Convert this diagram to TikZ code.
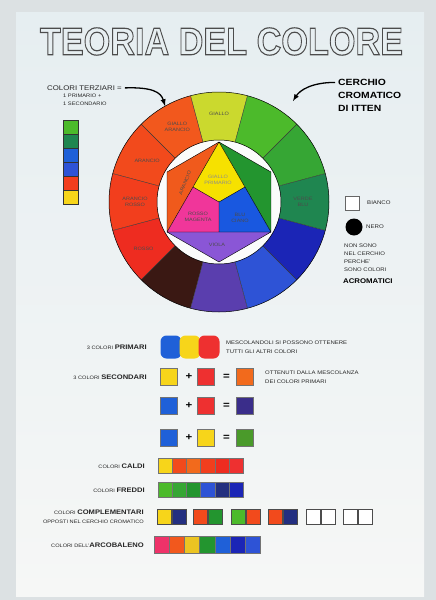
\documentclass[tikz,border=0pt]{standalone}
\usepackage{fontspec}
\setmainfont{Liberation Sans}[FakeStretch=1.15]
\usepackage{xcolor}
\usepackage{graphicx}
\usepackage{tikz}
\usetikzlibrary{calc, positioning}

% foglio
\definecolor{fondo}{HTML}{DCE1E3}
\definecolor{cartaAlto}{HTML}{E6EEF1}
\definecolor{cartaBasso}{HTML}{F6F7F6}
% corona del cerchio
\definecolor{anGiallo}{HTML}{CBD92E}
\definecolor{anGialloArancio}{HTML}{F2581D}
\definecolor{anArancio}{HTML}{F24A1C}
\definecolor{anArancioRosso}{HTML}{F23E1D}
\definecolor{anRosso}{HTML}{EE2C20}
\definecolor{anBruno}{HTML}{3A1813}
\definecolor{anViola}{HTML}{5A3EAE}
\definecolor{anBluViola}{HTML}{2E53D6}
\definecolor{anBlu}{HTML}{1B25B6}
\definecolor{anVerdeBlu}{HTML}{1F8650}
\definecolor{anVerde}{HTML}{36A634}
\definecolor{anGialloVerde}{HTML}{4CBA2B}
% esagono
\definecolor{esGiallo}{HTML}{F6E100}
\definecolor{esMagenta}{HTML}{F0369A}
\definecolor{esCiano}{HTML}{1958E0}
\definecolor{esArancio}{HTML}{F05A1C}
\definecolor{esVerde}{HTML}{23952F}
\definecolor{esViola}{HTML}{8A56D6}
% campioni
\definecolor{cGiallo}{HTML}{F7D51A}
\definecolor{cRosso}{HTML}{EE3030}
\definecolor{cBlu}{HTML}{1F60D8}
\definecolor{cArancio}{HTML}{F26A1C}
\definecolor{cViola}{HTML}{3A2D8A}
\definecolor{cVerde}{HTML}{4A9A2A}
\definecolor{cNavy}{HTML}{232F80}

\tikzset{
  testo/.style={font=\fontsize{5.3}{6.3}\selectfont, inner sep=0pt, text=black!85},
  grassetto/.style={font=\bfseries\fontsize{9}{10}\selectfont, inner sep=0pt},
  etichetta/.style={font=\fontsize{4.8}{5.6}\selectfont, inner sep=0pt, text=black!70, align=center},
  quadro/.style={draw=black!55, line width=0.4pt, minimum width=17pt, minimum height=17pt, inner sep=0pt},
  tessera/.style={draw=black!55, line width=0.4pt, minimum width=14.2pt, minimum height=15pt, inner sep=0pt},
  macchia/.style={minimum width=21pt, minimum height=23pt, inner sep=0pt, rounded corners=6pt},
  segno/.style={font=\bfseries\fontsize{10}{10}\selectfont, inner sep=0pt},
  freccia/.style={->, line width=1.3pt, shorten <=3pt},
}

\newcommand{\piccolo}{\fontsize{4.9}{6}\selectfont}
\newcommand{\forte}{\bfseries\fontsize{6.6}{7}\selectfont}
% testo solo contornato
\newcommand{\contorno}[1]{\special{pdf:literal direct 1 Tr 0.3 w 0.3 G}#1\special{pdf:literal direct 0 Tr 0 G}}

\begin{document}
\begin{tikzpicture}[>=latex, x=1pt, y=-1pt]
    \useasboundingbox (0,0) rectangle (436,600);

    % Foglio
    \fill[fondo] (0,0) rectangle (436,600);
    \shade[top color=cartaAlto, bottom color=cartaBasso] (16,12) rectangle (424,596);

    % Titolo
    \node[inner sep=0pt] (titolo) at (221.5,41.5)
        {\resizebox{363pt}{27pt}{\bfseries\contorno{TEORIA DEL COLORE}}};

    % Colori terziari
    \node[testo, font=\fontsize{6.8}{7}\selectfont, anchor=west] (terziari) at (47,88) {COLORI TERZIARI =};
    \node[testo, font=\fontsize{5}{8.2}\selectfont, anchor=north west, align=left] (formula) at (63,93.5)
        {1 PRIMARIO +\\1 SECONDARIO};
    \coordinate (puntaTerz) at (165,106);
    \draw[freccia] (terziari.east) .. controls +(30,-1) and +(-4,-14) .. (puntaTerz);

    \foreach \c [count=\i] in {anGialloVerde, anVerdeBlu, cBlu, anBluViola, anArancioRosso, cGiallo}
        \node[draw=black!80, line width=0.4pt, fill=\c, minimum width=15pt, minimum height=14pt, inner sep=0pt]
            (terz\i) at (71, 113+14*\i) {};

    % Cerchio cromatico
    \begin{scope}[shift={(219,202)}, yscale=-1]
        \fill[white!60!cartaBasso] (0,0) circle[radius=62];
        \foreach \a/\c in {90/anGiallo, 120/anGialloArancio, 150/anArancio, 180/anArancioRosso,
                           210/anRosso, 240/anBruno, 270/anViola, 300/anBluViola,
                           330/anBlu, 360/anVerdeBlu, 30/anVerde, 60/anGialloVerde}
            \fill[\c] ({\a-15}:62) arc[start angle={\a-15}, end angle={\a+15}, radius=62]
                -- ({\a+15}:110) arc[start angle={\a+15}, end angle={\a-15}, radius=110] -- cycle;
        \foreach \a in {15,45,...,345}
            \draw[line width=0.4pt, black!80] (\a:62) -- (\a:110);
        \draw[line width=0.5pt] (0,0) circle[radius=110] (0,0) circle[radius=62];

        % esagono
        \foreach \a [count=\i] in {90,150,210,270,330,30}
            \coordinate (h\i) at (\a:60);
        \coordinate (o) at (0,0);
        \coordinate (m13) at ($(h1)!0.5!(h3)$);
        \coordinate (m35) at ($(h3)!0.5!(h5)$);
        \coordinate (m51) at ($(h5)!0.5!(h1)$);
        \fill[esArancio] (h1) -- (h2) -- (h3) -- cycle;
        \fill[esViola] (h3) -- (h4) -- (h5) -- cycle;
        \fill[esVerde] (h5) -- (h6) -- (h1) -- cycle;
        \fill[esGiallo] (h1) -- (m13) -- (o) -- (m51) -- cycle;
        \fill[esMagenta] (m13) -- (h3) -- (m35) -- (o) -- cycle;
        \fill[esCiano] (o) -- (m35) -- (h5) -- (m51) -- cycle;
        \draw[line width=0.4pt] (h1) -- (h2) -- (h3) -- (h4) -- (h5) -- (h6) -- cycle
            (h1) -- (h3) -- (h5) -- cycle (m13) -- (o) (m35) -- (o) (m51) -- (o);

        % nomi
        \node[etichetta] (nGiallo) at (90:88) {GIALLO};
        \node[etichetta] (nGialloArancio) at (119:86) {GIALLO\\ARANCIO};
        \node[etichetta] (nArancio) at (150:83) {ARANCIO};
        \node[etichetta] (nArancioRosso) at (180:84) {ARANCIO\\ROSSO};
        \node[etichetta] (nRosso) at (212:89) {ROSSO};
        \node[etichetta] (nVerdeBlu) at (0:84) {VERDE\\BLU};
        \node[etichetta, text=black!45] (nPrimario) at (-1,22) {GIALLO\\PRIMARIO};
        \node[etichetta] (nMagenta) at (-21,-15) {ROSSO\\MAGENTA};
        \node[etichetta] (nCiano) at (21,-16) {BLU\\CIANO};
        \node[etichetta] (nViola) at (-2,-43) {VIOLA};
        \node[etichetta, rotate=68] (nArancioEs) at (-34,19) {ARANCIO};
    \end{scope}

    % Cerchio di Itten
    \node[grassetto, anchor=base west] (itten1) at (338,85.5) {CERCHIO};
    \node[grassetto, anchor=base west] (itten2) at (338,98.5) {CROMATICO};
    \node[grassetto, anchor=base west] (itten3) at (338,111.5) {DI ITTEN};
    \coordinate (puntaItten) at (293,101);
    \draw[freccia] (itten1.west) .. controls +(-26,0) and +(7,-11) .. (puntaItten);

    % Colori acromatici
    \node[draw=black!60, line width=0.5pt, fill=white, minimum size=14pt, inner sep=0pt] (bianco) at (352.5,203) {};
    \node[testo, anchor=west] (nBianco) at (367,203) {BIANCO};
    \node[circle, fill=black, minimum size=17pt, inner sep=0pt] (nero) at (354,227) {};
    \node[testo, anchor=west] (nNero) at (366,227) {NERO};
    \node[testo, font=\fontsize{5.2}{8}\selectfont, anchor=north west, align=left] (acromatici) at (344,243.5)
        {NON SONO\\NEL CERCHIO\\PERCHE'\\SONO COLORI};
    \node[testo, font=\bfseries\fontsize{6.8}{7}\selectfont, anchor=west, text=black] (acromatici2) at (343,281) {ACROMATICI};

    % Primari
    \node[testo, anchor=east] (lPrimari) at (147,347) {{\piccolo 3 COLORI }{\forte PRIMARI}};
    \foreach \c/\x [count=\i] in {cBlu/171, cGiallo/190, cRosso/209}
        \node[macchia, fill=\c] (prim\i) at (\x,347) {};
    \node[testo, anchor=north west, align=left, font=\fontsize{5.2}{9}\selectfont] (tPrimari) at (226,340.5)
        {MESCOLANDOLI SI POSSONO OTTENERE\\TUTTI GLI ALTRI COLORI};

    % Secondari
    \node[testo, anchor=east] (lSecondari) at (147,377) {{\piccolo 3 COLORI }{\forte SECONDARI}};
    \foreach \y/\a/\b/\r [count=\i] in {377/cGiallo/cRosso/cArancio, 406/cBlu/cRosso/cViola, 438/cBlu/cGiallo/cVerde} {
        \node[quadro, fill=\a] (sec\i-a) at (169,\y) {};
        \node[segno] (sec\i-piu) at (189,\y) {+};
        \node[quadro, fill=\b] (sec\i-b) at (206,\y) {};
        \node[segno] (sec\i-uguale) at (226.5,\y) {=};
        \node[quadro, fill=\r] (sec\i-r) at (244.5,\y) {};
    }
    \node[testo, anchor=north west, align=left, font=\fontsize{5.2}{9}\selectfont] (tSecondari) at (265,370.5)
        {OTTENUTI DALLA MESCOLANZA\\DEI COLORI PRIMARI};

    % Caldi e freddi
    \node[testo, anchor=east] (lCaldi) at (145,466) {{\piccolo COLORI }{\forte CALDI}};
    \foreach \c [count=\i] in {cGiallo, anArancio, cArancio, anArancioRosso, anRosso, cRosso}
        \node[tessera, fill=\c] (caldo\i) at (150.9+14.2*\i,466) {};
    \node[testo, anchor=east] (lFreddi) at (145,490) {{\piccolo COLORI }{\forte FREDDI}};
    \foreach \c [count=\i] in {anGialloVerde, anVerde, esVerde, anBluViola, cNavy, anBlu}
        \node[tessera, fill=\c] (freddo\i) at (150.9+14.2*\i,490) {};

    % Complementari
    \node[testo, anchor=east] (lComplementari) at (144,512) {{\piccolo COLORI }{\forte COMPLEMENTARI}};
    \node[testo, anchor=east, font=\fontsize{4.9}{6}\selectfont] (lOpposti) at (144,521.5) {OPPOSTI NEL CERCHIO CROMATICO};
    \foreach \x/\a/\b [count=\i] in {157/cGiallo/cNavy, 193/anArancio/esVerde, 231/anGialloVerde/anArancio,
                                     268/anArancio/cNavy, 306/white/white, 343/white/white} {
        \node[tessera, draw=black!70, fill=\a, minimum width=14.5pt] (comp\i-a) at (\x+7.25,517) {};
        \node[tessera, draw=black!70, fill=\b, minimum width=14.5pt, right=0pt of comp\i-a] (comp\i-b) {};
    }

    % Arcobaleno
    \node[testo, anchor=east] (lArcobaleno) at (144,545) {{\piccolo COLORI DELL'}{\forte ARCOBALENO}};
    \foreach \c [count=\i] in {esMagenta!60!anRosso, anGialloArancio, cGiallo!80!brown, esVerde, cBlu, anBlu, anBluViola}
        \node[tessera, fill=\c, minimum width=15.2pt, minimum height=17pt] (arco\i) at (146.4+15.2*\i,545) {};
\end{tikzpicture}
\end{document}
